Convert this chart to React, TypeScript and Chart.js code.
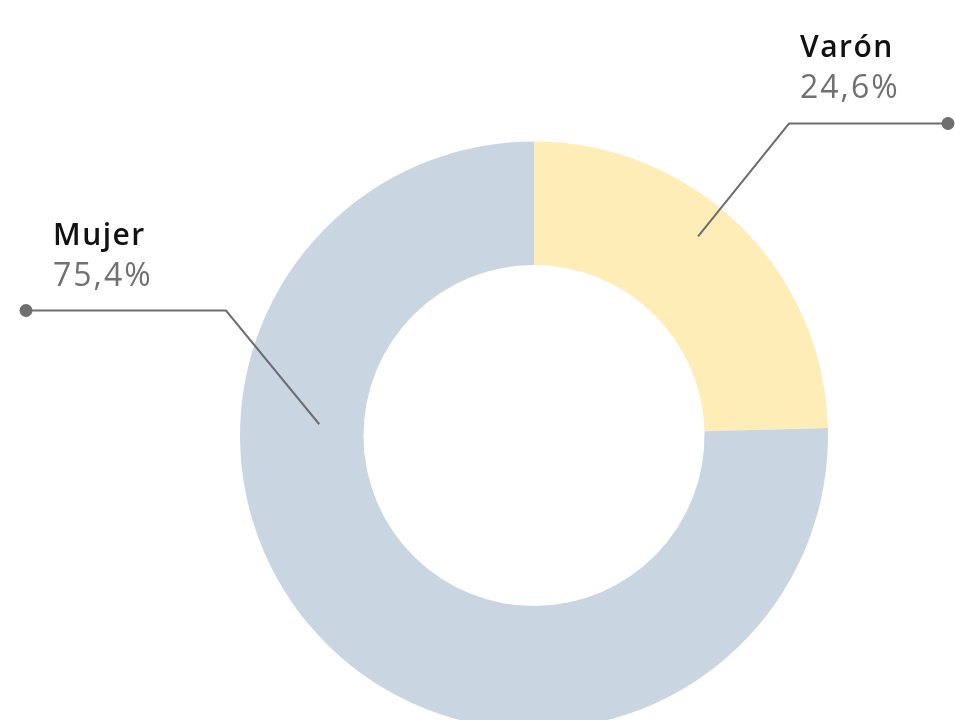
import React, { useEffect, useRef } from "react";
import { Chart, registerables } from "chart.js";

Chart.register(...registerables);

const categories = ["Varón", "Mujer"];
const values = [24.6, 75.4];
const valueLabels = ["24,6%", "75,4%"];
const colors = ["#FEEDB6", "#C9D6E2"];

const FONT = "'Open Sans', 'DejaVu Sans', sans-serif";

// label layout (positions relative to chart centre)
const labelLayout = [
  { anchorAngle: -50.5, anchorR: 258, elbow: [255, -312], end: [414, -312], text: [266, -379] },
  { anchorAngle: 183, anchorR: 215, elbow: [-308, -125], end: [-508, -125], text: [-481, -191] },
];

const leaderPlugin = {
  id: "leaders",
  afterDraw(chart: any) {
    const meta = chart.getDatasetMeta(0);
    const arc = meta.data[0];
    if (!arc) return;
    const cx = arc.x;
    const cy = arc.y;
    const ctx = chart.ctx;
    ctx.save();
    labelLayout.forEach((l, i) => {
      const a = (l.anchorAngle * Math.PI) / 180;
      const ax = cx + Math.cos(a) * l.anchorR;
      const ay = cy + Math.sin(a) * l.anchorR;
      ctx.strokeStyle = "#6e6e6e";
      ctx.lineWidth = 2;
      ctx.beginPath();
      ctx.moveTo(ax, ay);
      ctx.lineTo(cx + l.elbow[0], cy + l.elbow[1]);
      ctx.lineTo(cx + l.end[0], cy + l.end[1]);
      ctx.stroke();
      ctx.fillStyle = "#6e6e6e";
      ctx.beginPath();
      ctx.arc(cx + l.end[0], cy + l.end[1], 6.5, 0, Math.PI * 2);
      ctx.fill();
      ctx.textAlign = "left";
      ctx.textBaseline = "alphabetic";
      ctx.fillStyle = "#111111";
      ctx.font = `600 30px ${FONT}`;
      (ctx as any).letterSpacing = "1.5px";
      ctx.fillText(categories[i], cx + l.text[0], cy + l.text[1]);
      ctx.fillStyle = "#707070";
      ctx.font = `400 32px ${FONT}`;
      (ctx as any).letterSpacing = "2px";
      ctx.fillText(valueLabels[i], cx + l.text[0], cy + l.text[1] + 41);
      (ctx as any).letterSpacing = "0px";
    });
    ctx.restore();
  },
};

export default function App() {
  const ref = useRef<HTMLCanvasElement | null>(null);
  useEffect(() => {
    if (!ref.current) return;
    const chart = new Chart(ref.current, {
      type: "doughnut",
      data: {
        labels: categories,
        datasets: [
          {
            data: values,
            backgroundColor: colors,
            borderWidth: 0,
          },
        ],
      },
      options: {
        responsive: false,
        animation: false,
        events: [],
        cutout: "58%",
        layout: { padding: { left: 240, right: 127, top: 141, bottom: 142 } },
        plugins: {
          legend: { display: false },
          tooltip: { enabled: false },
        },
      },
      plugins: [leaderPlugin],
    });
    return () => chart.destroy();
  }, []);
  return (
    <div
      style={{
        position: "fixed",
        left: 0,
        top: 0,
        width: 955,
        height: 720,
        overflow: "hidden",
        background: "#fff",
      }}
    >
      <canvas ref={ref} width={955} height={872} style={{ display: "block" }} />
    </div>
  );
}
